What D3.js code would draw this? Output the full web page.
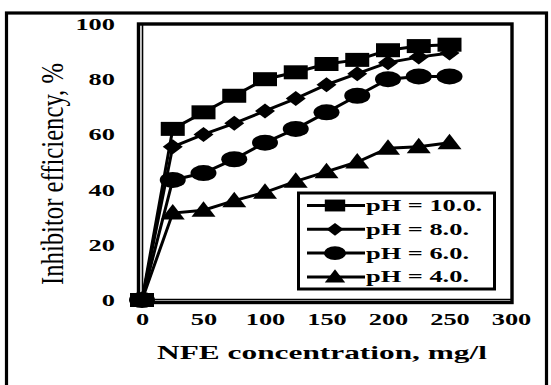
<!DOCTYPE html>
<html>
<head>
<meta charset="utf-8">
<script src="https://cdn.jsdelivr.net/npm/d3@7"></script>
<style>
  body { margin: 0; background: #fff; }
  svg { display: block; }
</style>
</head>
<body>
<div class="chart"></div>
<script>
// data
const concentration = [0, 25, 50, 75, 100, 125, 150, 175, 200, 225, 250];
const ph10 = [0, 62, 68, 74, 80, 82.5, 85.5, 87, 90.5, 92, 92.5];
const ph8  = [0, 55.5, 60, 64, 68.5, 73, 78, 82, 86, 88, 89.5];
const ph6  = [0, 43.5, 46, 51, 57, 62, 68, 74, 80, 81, 81];
const ph4  = [0, 31.5, 32.5, 36, 39, 43, 46.5, 50, 55, 55.5, 57];
const seriesNames = ["pH = 10.0.", "pH = 8.0.", "pH = 6.0.", "pH = 4.0."];
const seriesShapes = ["square", "diamond", "circle", "triangle"];
const xTicks = [0, 50, 100, 150, 200, 250, 300];
const yTicks = [0, 20, 40, 60, 80, 100];

const W = 551, H = 385;
const SX = 1.65; // the picture is stretched sideways, text and markers too
const serif = "'Liberation Serif', 'Times New Roman', serif";

const svg = d3.select(".chart").append("svg")
  .attr("width", W).attr("height", H);

// outer frame (bottom runs off the picture)
svg.append("rect")
  .attr("x", 6.5).attr("y", 13).attr("width", 540).attr("height", 400)
  .attr("fill", "none").attr("stroke", "#000").attr("stroke-width", 3.2);

const xScale = d3.scaleLinear().domain([0, 300]).range([142, 511]);
const yScale = d3.scaleLinear().domain([0, 100]).range([300, 24]);

// plot area border
svg.append("rect")
  .attr("x", 138.5).attr("y", 24).attr("width", 373.5).attr("height", 278.5)
  .attr("fill", "none").attr("stroke", "#000").attr("stroke-width", 3.4);

// axes
const yAxis = svg.append("g")
  .attr("transform", "translate(" + xScale(0) + ",0)")
  .call(d3.axisLeft(yScale).tickValues(yTicks).tickSize(0).tickSizeOuter(0).tickPadding(16.4));
const xAxis = svg.append("g")
  .attr("transform", "translate(0," + (yScale(0) - 1) + ")")
  .call(d3.axisBottom(xScale).tickValues(xTicks).tickSize(0).tickSizeOuter(0).tickPadding(14.6));

[xAxis, yAxis].forEach(function(ax) {
  ax.select(".domain").attr("stroke", "#000").attr("stroke-width", 1.6);
  ax.selectAll("text")
    .attr("font-family", serif)
    .attr("font-weight", "bold")
    .attr("font-size", 16)
    .attr("fill", "#000")
    .attr("transform", "scale(" + SX + ",1)");
});
yAxis.selectAll("text").attr("dy", "0.34em");

// marker shapes, half width / half height in pixels
function markerPath(shape) {
  if (shape === "square") {
    return "M-12,-7H12V7H-12Z";
  } else if (shape === "diamond") {
    return "M0,-7.5L10,0L0,7.5L-10,0Z";
  } else if (shape === "triangle") {
    return "M0,-9L12,6.5H-12Z";
  }
  return null;
}
function drawMarker(g, shape) {
  if (shape === "circle") {
    g.append("ellipse").attr("rx", 13).attr("ry", 8).attr("fill", "#000");
  } else {
    g.append("path").attr("d", markerPath(shape)).attr("fill", "#000");
  }
}

const allSeries = [ph10, ph8, ph6, ph4];
const line = d3.line()
  .x(function(d, i) { return xScale(concentration[i]); })
  .y(function(d) { return yScale(d); });

allSeries.forEach(function(vals, s) {
  svg.append("path")
    .datum(vals)
    .attr("d", line)
    .attr("fill", "none")
    .attr("stroke", "#000")
    .attr("stroke-width", 3);
});
allSeries.forEach(function(vals, s) {
  vals.forEach(function(v, i) {
    const g = svg.append("g")
      .attr("transform", "translate(" + xScale(concentration[i]) + "," + yScale(v) + ")");
    drawMarker(g, seriesShapes[s]);
  });
});

// legend
const legend = svg.append("g");
legend.append("rect")
  .attr("x", 298.5).attr("y", 193).attr("width", 196).attr("height", 96)
  .attr("fill", "#fff").attr("stroke", "#000").attr("stroke-width", 3);
seriesNames.forEach(function(name, i) {
  const cy = 205.5 + i * 23.8;
  legend.append("line")
    .attr("x1", 307).attr("x2", 365).attr("y1", cy).attr("y2", cy)
    .attr("stroke", "#000").attr("stroke-width", 3);
  const g = legend.append("g").attr("transform", "translate(335," + cy + ") scale(0.85)");
  drawMarker(g, seriesShapes[i]);
  legend.append("text")
    .attr("transform", "translate(366," + (cy + 5.5) + ") scale(" + SX + ",1)")
    .attr("font-family", serif)
    .attr("font-weight", "bold")
    .attr("font-size", 16)
    .text(name);
});

// axis titles
svg.append("text")
  .attr("transform", "translate(322,359) scale(" + SX + ",1)")
  .attr("text-anchor", "middle")
  .attr("font-family", serif)
  .attr("font-weight", "bold")
  .attr("font-size", 19)
  .text("NFE concentration, mg/l");

svg.append("text")
  .attr("transform", "translate(63,174) scale(" + SX + ",1) rotate(-90)")
  .attr("text-anchor", "middle")
  .attr("font-family", serif)
  .attr("font-size", 19)
  .attr("textLength", 222)
  .attr("lengthAdjust", "spacingAndGlyphs")
  .text("Inhibitor efficiency, %");
</script>
</body>
</html>
